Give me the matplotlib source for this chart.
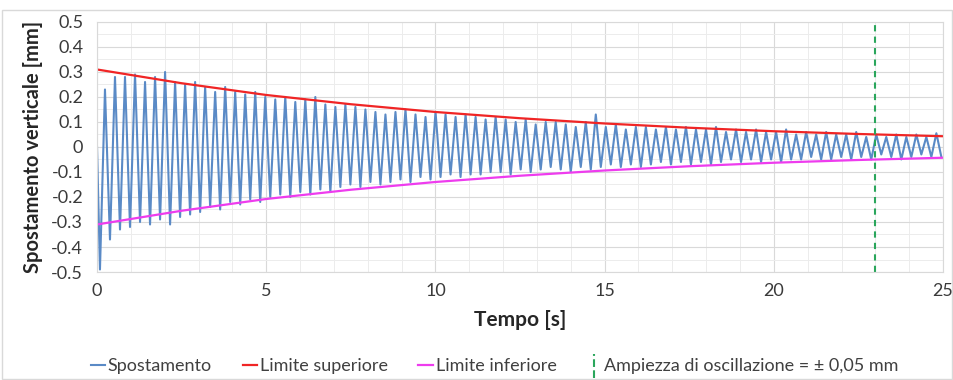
# Damped vertical displacement with exponential envelope (upper / lower limits)

import numpy as np
import matplotlib.pyplot as plt
from matplotlib.lines import Line2D
from matplotlib.legend_handler import HandlerBase
from matplotlib.patches import Rectangle

plt.rcParams['font.family'] = ['Lato', 'DejaVu Sans']

# Spostamento: peaks and troughs (mm)
period = 0.296          # s, one oscillation
first_peak = 0.235      # s
first_trough = 0.087    # s
start_value = 0.0

peaks = [
    0.23, 0.28, 0.28, 0.29, 0.26, 0.28, 0.30, 0.26, 0.25, 0.26,
    0.24, 0.22, 0.24, 0.22, 0.21, 0.22, 0.20, 0.19, 0.20, 0.18,
    0.19, 0.20, 0.17, 0.16, 0.17, 0.16, 0.15, 0.14, 0.13, 0.14,
    0.15, 0.13, 0.12, 0.14, 0.13, 0.12, 0.13, 0.12, 0.11, 0.12,
    0.11, 0.10, 0.11, 0.09, 0.10, 0.10, 0.09, 0.08, 0.10, 0.13,
    0.08, 0.09, 0.07, 0.08, 0.08, 0.07, 0.08, 0.07, 0.08, 0.07,
    0.07, 0.08, 0.06, 0.07, 0.06, 0.07, 0.06, 0.06, 0.07, 0.05,
    0.06, 0.05, 0.06, 0.05, 0.05, 0.06, 0.04, 0.05, 0.04, 0.05,
    0.04, 0.05, 0.04, 0.055,
]
troughs = [
    -0.49, -0.37, -0.33, -0.32, -0.30, -0.31, -0.29, -0.31, -0.28, -0.27,
    -0.26, -0.24, -0.25, -0.22, -0.23, -0.21, -0.22, -0.20, -0.19, -0.20,
    -0.18, -0.19, -0.17, -0.18, -0.16, -0.15, -0.16, -0.14, -0.15, -0.14,
    -0.13, -0.14, -0.12, -0.13, -0.12, -0.11, -0.12, -0.11, -0.11, -0.10,
    -0.10, -0.11, -0.09, -0.10, -0.09, -0.08, -0.09, -0.10, -0.08, -0.09,
    -0.08, -0.07, -0.08, -0.07, -0.08, -0.07, -0.06, -0.07, -0.06, -0.07,
    -0.06, -0.07, -0.06, -0.05, -0.06, -0.05, -0.06, -0.05, -0.06, -0.05,
    -0.05, -0.04, -0.05, -0.05, -0.04, -0.05, -0.04, -0.05, -0.03, -0.04,
    -0.05, -0.04, -0.03, -0.04, -0.04,
]

# Envelope (Limite superiore / inferiore)
env_t = [0, 2.5, 5, 7.5, 10, 12.5, 15, 17.5, 20, 22.5, 25]
env_upper = [0.31, 0.255, 0.208, 0.171, 0.14, 0.115, 0.094, 0.077, 0.063, 0.052, 0.043]
env_lower = [-0.31, -0.255, -0.208, -0.171, -0.14, -0.115, -0.094, -0.077, -0.063, -0.052, -0.043]

t_limit = 23.0  # Ampiezza di oscillazione = +/- 0,05 mm


class HandlerVDash(HandlerBase):
    def create_artists(self, legend, orig_handle, xdescent, ydescent,
                       width, height, fontsize, trans):
        x = width / 2 - xdescent
        line = Line2D([x, x], [-0.5 * height, 1.4 * height],
                      color=orig_handle.get_color(),
                      linestyle=orig_handle.get_linestyle(),
                      linewidth=orig_handle.get_linewidth())
        line.set_transform(trans)
        return [line]


def main():
    # interleave troughs and peaks into one trace
    t_peaks = first_peak + period * np.arange(len(peaks))
    t_troughs = first_trough + period * np.arange(len(troughs))
    t_all = np.concatenate([[0.0], t_peaks, t_troughs])
    y_all = np.concatenate([[start_value], peaks, troughs])
    order = np.argsort(t_all)
    t_all, y_all = t_all[order], y_all[order]

    fig = plt.figure(figsize=(9.54, 3.8), dpi=100)
    ax = fig.add_axes([0.1017, 0.2842, 0.8868, 0.658])

    ax.plot(t_all, y_all, color='#5a8ac6', lw=1.5, label='Spostamento')
    ax.plot(env_t, env_upper, color='#f02525', lw=1.6, label='Limite superiore')
    ax.plot(env_t, env_lower, color='#ee3cee', lw=1.6, label='Limite inferiore')
    vline = ax.axvline(t_limit, color='#2aa65c', lw=1.5, ls=(0, (3, 2.5)),
                       label='Ampiezza di oscillazione = ± 0,05 mm')

    ax.set_xlim(0, 25)
    ax.set_ylim(-0.5, 0.5)
    ax.set_xticks(np.arange(0, 26, 5))
    ax.set_yticks(np.round(np.arange(-0.5, 0.51, 0.1), 1))
    ax.set_yticklabels(['-0.5', '-0.4', '-0.3', '-0.2', '-0.1', '0',
                        '0.1', '0.2', '0.3', '0.4', '0.5'])
    ax.set_xticks(np.arange(0, 26, 1), minor=True)
    ax.set_yticks(np.arange(-0.5, 0.51, 0.05), minor=True)
    ax.grid(which='major', color='#d9d9d9', lw=0.8)
    ax.grid(which='minor', color='#ececec', lw=0.7)
    ax.set_axisbelow(True)
    ax.tick_params(which='both', length=0, labelsize=13, colors='#3a3a3a')
    ax.tick_params(axis='x', pad=8)
    ax.tick_params(axis='y', pad=10)
    for s in ax.spines.values():
        s.set_color('#d9d9d9')

    ax.set_xlabel('Tempo [s]', fontsize=15, fontweight='bold', color='#262626', labelpad=8)
    ax.set_ylabel('Spostamento verticale [mm]', fontsize=14.5, fontweight='bold',
                  color='#262626', labelpad=6)

    ax.legend(loc='upper center', bbox_to_anchor=(0.47, -0.28), ncol=4, frameon=False,
              fontsize=13, handlelength=0.8, handletextpad=0.15, columnspacing=1.7,
              labelcolor='#404040', handler_map={vline: HandlerVDash()})

    # chart area border
    fig.patches.append(Rectangle((0.002, 0.003), 0.996, 0.971, transform=fig.transFigure,
                                 fill=False, edgecolor='#d9d9d9', lw=1.0))

    fig.savefig('out.png', dpi=100)


if __name__ == "__main__":
    main()
